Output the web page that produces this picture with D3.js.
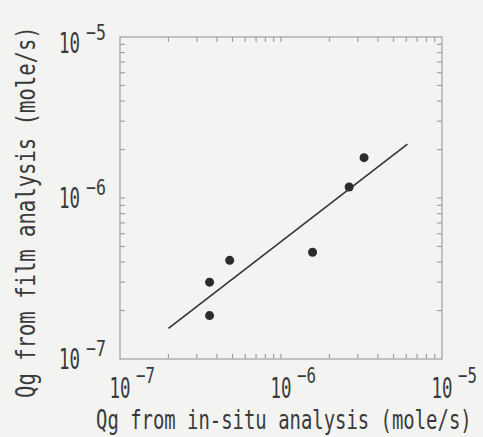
<!DOCTYPE html>
<html>
<head>
<meta charset="utf-8">
<script src="https://cdn.jsdelivr.net/npm/d3@7"></script>
<style>
  html, body { margin: 0; padding: 0; background: #f3f3f2; }
  text { font-family: "DejaVu Sans Mono", monospace; fill: #3a3a3a; }
</style>
</head>
<body>
<svg id="vis"></svg>
<script>
// values (mole/s)
const insitu = [3.6e-7, 3.6e-7, 4.8e-7, 1.57e-6, 2.65e-6, 3.28e-6];
const film   = [3.0e-7, 1.86e-7, 4.1e-7, 4.6e-7, 1.17e-6, 1.78e-6];
// fitted line end points
const fitX = [2.0e-7, 6.1e-6];
const fitY = [1.55e-7, 2.16e-6];
const decadeExps = [-7, -6, -5];
const xTitle = "Qg from in-situ analysis (mole/s)",
      yTitle = "Qg from film analysis (mole/s)";

let width = 483,
    height = 437,
    svg = d3.select("#vis").attr("width", width).attr("height", height);

let plotL = 120, plotR = 442, plotT = 37, plotB = 359;

const x = d3.scaleLog().domain([1e-7, 1e-5]).range([plotL, plotR]);
const y = d3.scaleLog().domain([1e-7, 1e-5]).range([plotB, plotT]);

// squeezes a monospace text horizontally to a given width (narrow font look)
function narrowText(parent, str, size, w, tx, ty, anchor, rot) {
  const t = parent.append("text")
      .attr("font-size", size)
      .text(str);
  const natural = t.node().getComputedTextLength();
  const k = w / natural;
  const dx = anchor === "end" ? -w : anchor === "middle" ? -w / 2 : 0;
  t.attr("transform", `translate(${tx},${ty}) rotate(${rot || 0}) translate(${dx},0) scale(${k},1)`);
  return t;
}

// minor + decade ticks, all sides, pointing inwards
const tickVals = [];
for (let e = -7; e < -5; e++) {
  for (let m = 1; m < 10; m++) tickVals.push(m * Math.pow(10, e));
}
const tickLen = 5;

const frame = svg.append("g").attr("stroke", "#a0a0a0").attr("stroke-width", 1.2).attr("fill", "none");

frame.append("rect")
    .attr("x", plotL).attr("y", plotT)
    .attr("width", plotR - plotL).attr("height", plotB - plotT);

tickVals.filter(v => v > 1.01e-7).forEach(v => {
  const px = x(v), py = y(v);
  frame.append("line").attr("x1", px).attr("x2", px).attr("y1", plotB).attr("y2", plotB - tickLen);
  frame.append("line").attr("x1", px).attr("x2", px).attr("y1", plotT).attr("y2", plotT + tickLen);
  frame.append("line").attr("y1", py).attr("y2", py).attr("x1", plotL).attr("x2", plotL + tickLen);
  frame.append("line").attr("y1", py).attr("y2", py).attr("x1", plotR).attr("x2", plotR - tickLen);
});

// tick labels, 10 with superscript
const labels = svg.append("g");
decadeExps.forEach(e => {
  const v = Math.pow(10, e);
  const px = x(v);
  narrowText(labels, "10", 29, 21, px, 398, "middle");
  narrowText(labels, "\u2212" + String(-e), 22, 19, px + 16, 383, "start");

  const py = Math.max(y(v) + 10, 53);
  narrowText(labels, "10", 29, 21, 80, py, "end");
  narrowText(labels, "\u2212" + String(-e), 22, 20, 86, py - 13, "start");
});

// axis titles
narrowText(svg, xTitle, 26, 376, 96, 429, "start");
narrowText(svg, yTitle, 26, 372, 35, 398, "start", -90);

// fitted line
svg.append("path")
    .datum(fitX.map((d, i) => [d, fitY[i]]))
    .attr("d", d3.line().x(d => x(d[0])).y(d => y(d[1])))
    .attr("stroke", "#333").attr("stroke-width", 1.6).attr("fill", "none");

// points
svg.append("g")
  .selectAll("circle")
  .data(insitu.map((d, i) => [d, film[i]]))
  .join("circle")
    .attr("cx", d => x(d[0]))
    .attr("cy", d => y(d[1]))
    .attr("r", 4.5)
    .attr("fill", "#2b2b2b");
</script>
</body>
</html>
